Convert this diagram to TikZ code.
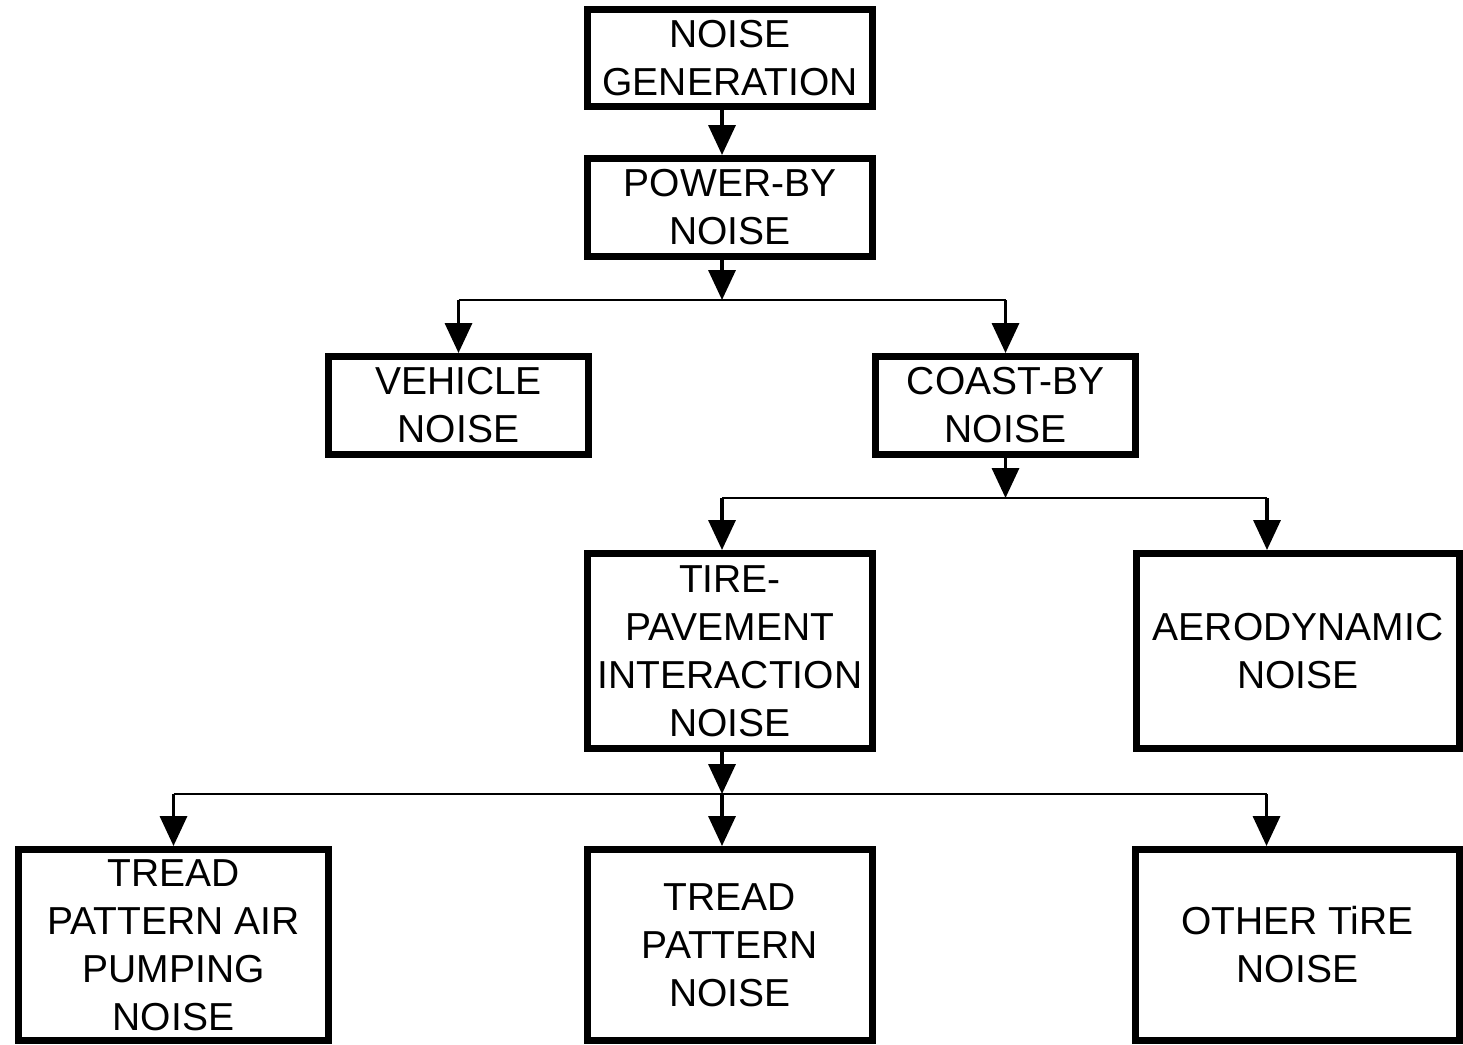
\documentclass[tikz,border=0pt]{standalone}
\usepackage{fontspec}
\setmainfont{Liberation Sans}
\usetikzlibrary{arrows.meta,positioning,calc}

\tikzset{
  box/.style={draw, line width=7pt, align=center, inner sep=0pt,
    font=\fontsize{39}{48}\selectfont},
  arr/.style={line width=3.5pt, -{Triangle[width=27pt,length=30pt]}},
  bar/.style={line width=2pt}
}

\begin{document}
\begin{tikzpicture}[x=1pt, y=-1pt]
  \useasboundingbox (0,0) rectangle (1463,1044);

  \node (gen) [box, minimum width=285pt, minimum height=97pt] at (730,58) {NOISE\\GENERATION};
  \node (pow) [box, minimum width=285pt, minimum height=98pt] at (730,207.5) {POWER-BY\\NOISE};
  \node (veh) [box, minimum width=260pt, minimum height=98pt] at (458.5,405.5) {VEHICLE\\NOISE};
  \node (coast) [box, minimum width=260pt, minimum height=98pt] at (1005.5,405.5) {COAST-BY\\NOISE};
  \node (tire) [box, minimum width=285pt, minimum height=195pt] at (730,651) {TIRE-\\PAVEMENT\\INTERACTION\\NOISE};
  \node (aero) [box, minimum width=323pt, minimum height=195pt] at (1298,651) {AERODYNAMIC\\NOISE};
  \node (pump) [box, minimum width=310pt, minimum height=191pt] at (173.5,945) {TREAD\\PATTERN AIR\\PUMPING\\NOISE};
  \node (tread) [box, minimum width=285pt, minimum height=191pt] at (730,945) {TREAD\\PATTERN\\NOISE};
  \node (other) [box, minimum width=324pt, minimum height=191pt] at (1297.5,945) {OTHER TiRE\\NOISE};

  % ports off the box centres
  \coordinate (genOut) at ([xshift=-8pt]gen.south);
  \coordinate (powIn) at ([xshift=-8pt]pow.north);
  \coordinate (powOut) at ([xshift=-8pt]pow.south);
  \coordinate (tireIn) at ([xshift=-8pt]tire.north);
  \coordinate (tireOut) at ([xshift=-8pt]tire.south);
  \coordinate (treadIn) at ([xshift=-8pt]tread.north);
  \coordinate (aeroIn) at ([xshift=-31pt]aero.north);
  \coordinate (otherIn) at ([xshift=-31pt]other.north);

  % junction bars
  \coordinate (j1) at (722,300);
  \coordinate (j2) at (1005.5,498);
  \coordinate (j3) at (722,794);

  \draw[arr] (genOut) -- (powIn);

  \draw[arr] (powOut) -- (j1);
  \draw[bar] (veh.north |- j1) -- (coast.north |- j1);
  \draw[arr] (veh.north |- j1) -- (veh.north);
  \draw[arr] (coast.north |- j1) -- (coast.north);

  \draw[arr] (coast.south) -- (j2);
  \draw[bar] (tireIn |- j2) -- (aeroIn |- j2);
  \draw[arr] (tireIn |- j2) -- (tireIn);
  \draw[arr] (aeroIn |- j2) -- (aeroIn);

  \draw[arr] (tireOut) -- (j3);
  \draw[bar] (pump.north |- j3) -- (otherIn |- j3);
  \draw[arr] (pump.north |- j3) -- (pump.north);
  \draw[arr] (j3) -- (treadIn);
  \draw[arr] (otherIn |- j3) -- (otherIn);
\end{tikzpicture}
\end{document}
